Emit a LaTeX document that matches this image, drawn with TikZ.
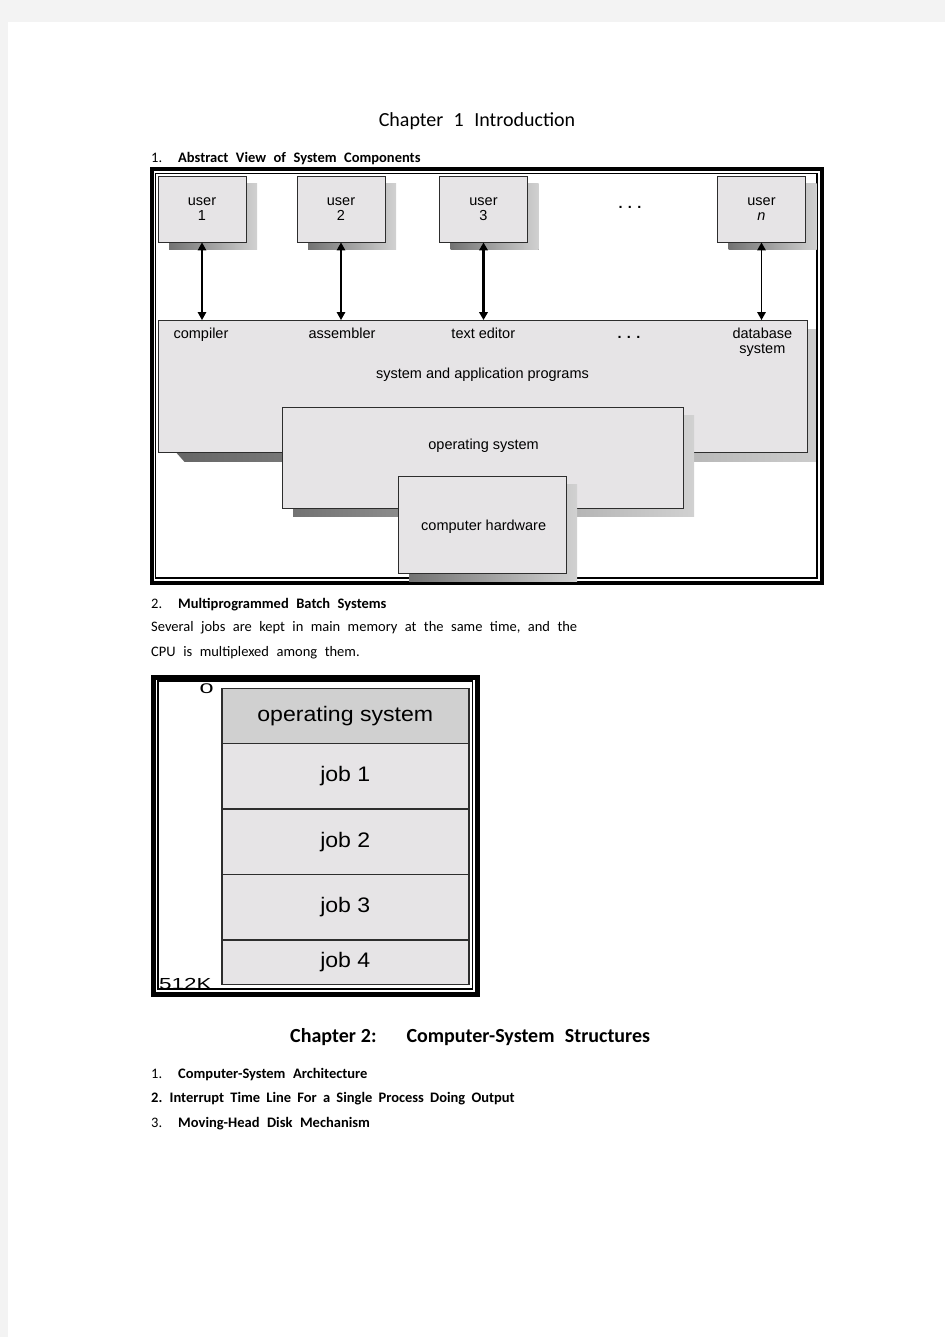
\documentclass[tikz,border=0pt]{standalone}
\usepackage{graphicx}
\usepackage{fontspec}
\setmainfont{Carlito}[WordSpace=2.3]
\newfontfamily\figfont{Liberation Sans}
\usetikzlibrary{arrows.meta, positioning, shadows, backgrounds}
\definecolor{pagegray}{RGB}{243,243,243}
\definecolor{boxfill}{RGB}{230,228,230}
\definecolor{osfill}{RGB}{208,208,208}
\definecolor{edgegray}{RGB}{45,45,45}

\begin{document}
\begin{tikzpicture}[x=1pt, y=-1pt,
    title/.style={anchor=base, inner sep=0pt, font=\fontsize{20}{24}\selectfont},
    heading/.style={anchor=base west, inner sep=0pt, font=\fontsize{14.5}{17}\selectfont},
    plainbox/.style={draw=edgegray, line width=0.9pt, fill=boxfill, inner sep=0pt},
    layer/.style={plainbox, drop shadow={shadow xshift=11pt, shadow yshift=-8pt, opacity=1, left color=black!55, right color=black!18}},
    userbox/.style={layer, minimum width=88pt, minimum height=66pt, align=center, font=\figfont\fontsize{14.5}{15}\selectfont},
    lbl/.style={inner sep=0pt, anchor=base, align=center, font=\figfont\fontsize{14.5}{15}\selectfont},
    link/.style={{Triangle[length=8pt,width=8.5pt]}-{Triangle[length=8pt,width=8.5pt]}, line width=1.4pt},
    mem/.style={draw=edgegray, line width=1.4pt, fill=boxfill, minimum width=247pt, inner sep=0pt, outer sep=0pt, font=\figfont\fontsize{21}{24}\selectfont}]
    \useasboundingbox (0,0) rectangle (945,1337);
    \begin{scope}[on background layer]
        \fill[pagegray] (0,0) rectangle (945,1337);
        \fill[white] (8,22) rectangle (945,1337);
    \end{scope}

    \node[title] (ch1) at (477,127) {Chapter 1 Introduction};
    \node[heading] (sec1) at (151,162.5) {1.\hspace{16pt}\textbf{Abstract View of System Components}};

    \draw[line width=4pt] (152,169) rectangle (822,583);
    \draw[line width=1.2pt] (155.5,173.5) rectangle (817,578);

    \node[userbox] (u1) at (202,209) {user\\1};
    \node[userbox] (u2) at (341,209) {user\\2};
    \node[userbox] (u3) at (483.5,209) {user\\3};
    \node[userbox] (un) at (761.5,209) {user\\\textit{n}};
    \node[lbl, font=\figfont\bfseries\fontsize{14.5}{15}\selectfont] (udots) at (630,209) {. . .};

    \node[plainbox, minimum width=649pt, minimum height=132pt] (apps) at (482.5,386.5) {};
    \begin{scope}[on background layer]
        \shade[left color=black!60, right color=black!20] ([xshift=19pt]apps.south west) -- ++(8pt,-9pt) -| ([xshift=10pt,yshift=-9pt]apps.north east) -- ([yshift=-9pt]apps.north east) -- cycle;
    \end{scope}
    \node[layer, minimum width=401pt, minimum height=101pt] (os) at (482.5,458) {};
    \node[layer, minimum width=168pt, minimum height=97.5pt] (hw) at (482,524.75) {};

    \draw[link] (u1) -- (u1 |- apps.north);
    \draw[link] (u2) -- (u2 |- apps.north);
    \draw[link, line width=2.2pt] (u3) -- (u3 |- apps.north);
    \draw[link] (un) -- (un |- apps.north);

    \node[lbl] (comp) at (201,338) {compiler};
    \node[lbl] (asm) at (342,338) {assembler};
    \node[lbl] (ed) at (483.3,338) {text editor};
    \node[lbl, font=\figfont\bfseries\fontsize{14.5}{15}\selectfont] (adots) at (629,338) {. . .};
    \node[lbl, anchor=center] (db) at (762.4,342) {database\\system};
    \node[lbl] (sysapp) at (482.5,378) {system and application programs};
    \node[lbl] (oslbl) at (483.6,449) {operating system};
    \node[lbl] (hwlbl) at (483.7,530) {computer hardware};

    \node[heading] (sec2) at (151,608.3) {2.\hspace{16pt}\textbf{Multiprogrammed Batch Systems}};
    \node[heading] (para1) at (151,631.8) {\makebox[426pt][s]{Several jobs are kept in main memory at the same time, and the}};
    \node[heading] (para2) at (151,656.5) {CPU is multiplexed among them.};

    \draw[line width=5pt] (153.5,677) rectangle (477.5,994);
    \draw[line width=1.4pt] (158,681) rectangle (472.5,989);

    \node[mem, fill=osfill, minimum height=55pt] (mos) at (345.3,715.8) {\scalebox{1.1}[1]{operating system}};
    \node[mem, minimum height=65.7pt, below=0pt of mos] (job1) {\scalebox{1.1}[1]{job 1}};
    \node[mem, minimum height=65.3pt, below=0pt of job1] (job2) {\scalebox{1.1}[1]{job 2}};
    \node[mem, minimum height=65.7pt, below=0pt of job2] (job3) {\scalebox{1.1}[1]{job 3}};
    \node[mem, minimum height=44.3pt, below=0pt of job3] (job4) {\scalebox{1.1}[1]{job 4}};
    \node[inner sep=0pt, font=\figfont\fontsize{14}{15}\selectfont] (addr0) at (206.7,688.5) {\scalebox{1.8}[1]{0}};
    \node[anchor=base west, inner sep=0pt, font=\figfont\fontsize{16}{17}\selectfont] (addr512) at (159,989) {\scalebox{1.4}[1]{512K}};

    \node[heading, font=\bfseries\fontsize{20}{24}\selectfont] (ch2) at (290,1042.3) {{\spaceskip=5pt Chapter 2:}\hspace{30pt}Computer-System Structures};
    \node[heading] (it1) at (151,1078.3) {1.\hspace{16pt}\textbf{Computer-System Architecture}};
    \node[heading] (it2) at (151,1102.8) {\spaceskip=6.2pt\textbf{2. Interrupt Time Line For a Single Process Doing Output}};
    \node[heading] (it3) at (151,1127.8) {3.\hspace{16pt}\textbf{Moving-Head Disk Mechanism}};
\end{tikzpicture}
\end{document}
